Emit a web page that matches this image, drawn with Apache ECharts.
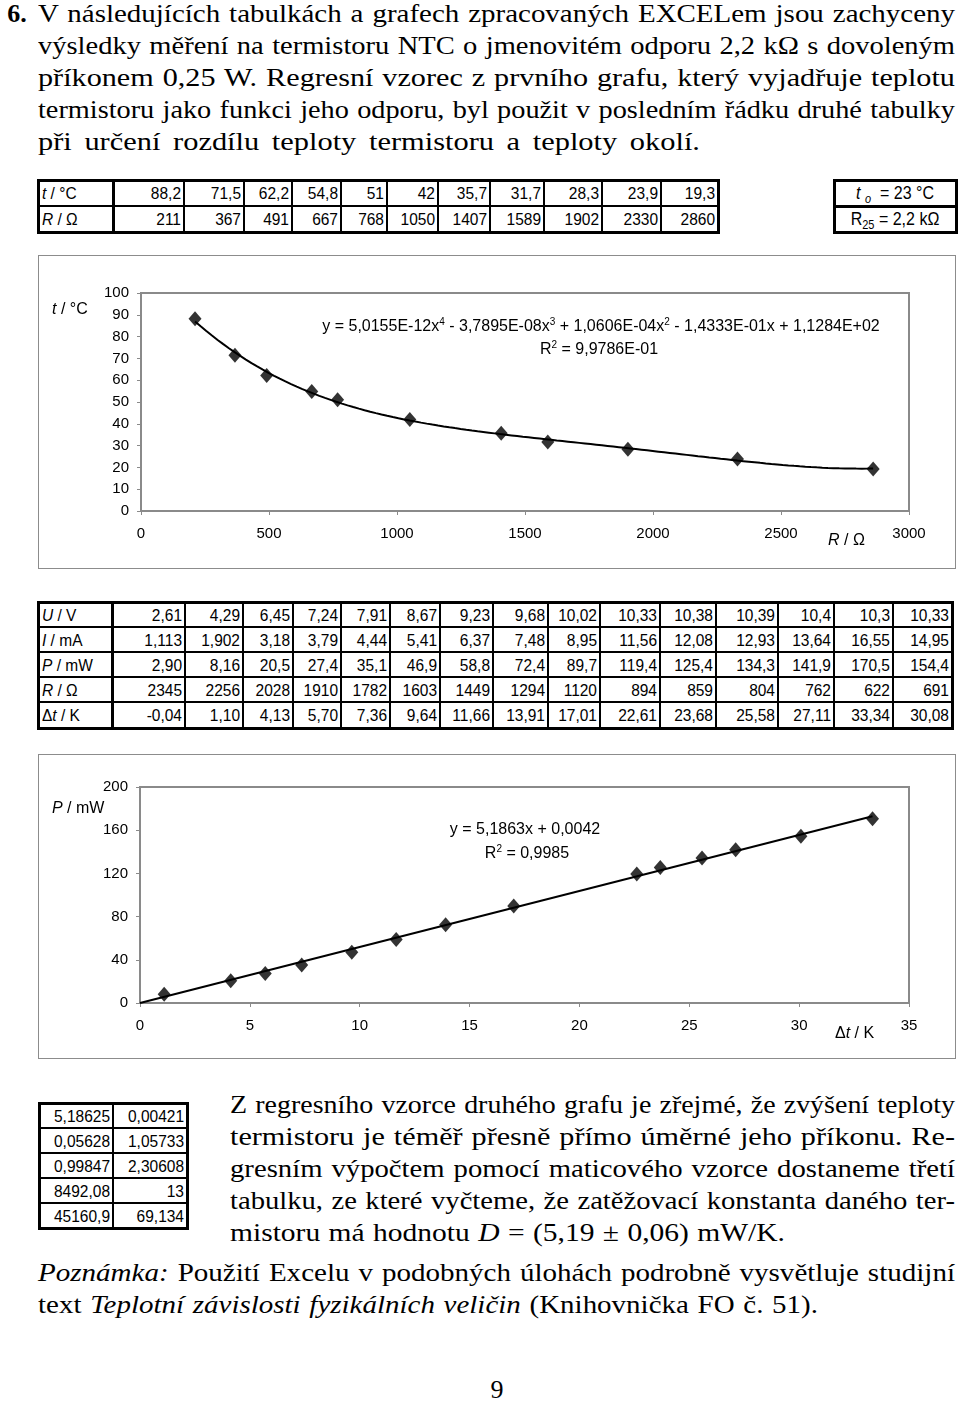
<!DOCTYPE html>
<html><head><meta charset="utf-8">
<script src="https://cdn.jsdelivr.net/npm/echarts@6.0.0/dist/echarts.min.js"></script>
<style>
html,body{margin:0;padding:0;background:#fff;}
body{width:960px;height:1401px;position:relative;overflow:hidden;font-family:'Liberation Serif','Times New Roman',serif;color:#000;}
.ln{position:absolute;font-size:26px;line-height:32px;height:32px;text-align:justify;text-align-last:justify;white-space:nowrap;overflow:visible;transform-origin:0 0;}
.cell{position:absolute;display:flex;align-items:center;box-sizing:border-box;white-space:nowrap;font-family:'Liberation Sans',Arial,sans-serif;font-size:15.5px;color:#000;}
.cell span.t{display:inline-block;transform:scaleY(1.12);}
.cell sub{font-size:11px;vertical-align:-4px;line-height:0;}
.hl{position:absolute;background:#000;}
.frame{position:absolute;border:1px solid #8c8c8c;box-sizing:border-box;}
.chart{position:absolute;}
</style>
</head><body>
<div id="root"></div>
<div class="frame" style="left:38px;top:255px;width:918px;height:314px;"></div>
<div class="chart" id="c1" style="left:38px;top:255px;width:917px;height:313px;"></div>
<div class="frame" style="left:38px;top:754px;width:918px;height:305px;"></div>
<div class="chart" id="c2" style="left:38px;top:754px;width:917px;height:304px;"></div>
<script>
// ---------- data ----------
const t_C   = [88.2, 71.5, 62.2, 54.8, 51, 42, 35.7, 31.7, 28.3, 23.9, 19.3];
const R_ohm = [211, 367, 491, 667, 768, 1050, 1407, 1589, 1902, 2330, 2860];
const U_V   = ['2,61','4,29','6,45','7,24','7,91','8,67','9,23','9,68','10,02','10,33','10,38','10,39','10,4','10,3','10,33'];
const I_mA  = ['1,113','1,902','3,18','3,79','4,44','5,41','6,37','7,48','8,95','11,56','12,08','12,93','13,64','16,55','14,95'];
const P_mW  = ['2,90','8,16','20,5','27,4','35,1','46,9','58,8','72,4','89,7','119,4','125,4','134,3','141,9','170,5','154,4'];
const R2_ohm= ['2345','2256','2028','1910','1782','1603','1449','1294','1120','894','859','804','762','622','691'];
const dT_K  = ['-0,04','1,10','4,13','5,70','7,36','9,64','11,66','13,91','17,01','22,61','23,68','25,58','27,11','33,34','30,08'];
const linestRows = [['5,18625','0,00421'],['0,05628','1,05733'],['0,99847','2,30608'],['8492,08','13'],['45160,9','69,134']];
// regression coefficients printed on the charts (highest power first)
const polyCoef = [5.0155e-12, -3.7895e-08, 1.0606e-04, -1.4333e-01, 1.1284e+02];
const linCoef  = [5.1863, 0.0042];
const xAxis1 = {min:0, max:3000, interval:500};
const yAxis1 = {min:0, max:100, interval:10};
const xAxis2 = {min:0, max:35, interval:5};
const yAxis2 = {min:0, max:200, interval:40};

const num = s => parseFloat(String(s).replace(',', '.'));
const fmt = v => String(v).replace('.', ',');

// ---------- text ----------
const root = document.getElementById('root');
function line(html, left, right, top, mode){
  const d = document.createElement('div');
  d.className = 'ln';
  d.style.left = left + 'px'; d.style.top = top + 'px';
  root.appendChild(d);
  const T = right - left;
  if (mode === 'center'){ d.style.width = T + 'px'; d.style.textAlign='center'; d.style.textAlignLast='center'; d.innerHTML = html; return; }
  // natural (unjustified) width; widen glyphs slightly (Computer Modern is wider than Times), justify the rest
  d.style.textAlign='left'; d.style.textAlignLast='left';
  d.innerHTML = '<span>' + html + '</span>';
  const W = d.firstChild.getBoundingClientRect().width;
  const k = Math.max(0.9, Math.min(1.17, T*0.985/W));
  d.innerHTML = html;
  d.style.textAlign=''; d.style.textAlignLast='';
  d.style.width = (T/k).toFixed(2) + 'px';
  d.style.transform = 'scaleX(' + k.toFixed(4) + ')';
}
line('<b>6.</b>', 4, 30, -2, 'center');
line('V následujících tabulkách a grafech zpracovaných EXCELem jsou zachyceny', 38, 955, -2);
line('výsledky měření na termistoru NTC o jmenovitém odporu 2,2 kΩ s dovoleným', 38, 955, 30);
line('příkonem 0,25 W. Regresní vzorec z prvního grafu, který vyjadřuje teplotu', 38, 955, 62);
line('termistoru jako funkci jeho odporu, byl použit v posledním řádku druhé tabulky', 38, 955, 94);
line('při určení rozdílu teploty termistoru a teploty okolí.', 38, 700, 126);

line('Z regresního vzorce druhého grafu je zřejmé, že zvýšení teploty', 230, 955, 1089);
line('termistoru je téměř přesně přímo úměrné jeho příkonu. Re-', 230, 955, 1121);
line('gresním výpočtem pomocí maticového vzorce dostaneme třetí', 230, 955, 1153);
line('tabulku, ze které vyčteme, že zatěžovací konstanta daného ter-', 230, 955, 1185);
line('mistoru má hodnotu <i>D</i> = (5,19 ± 0,06) mW/K.', 230, 785, 1217);
line('<i>Poznámka:</i> Použití Excelu v podobných úlohách podrobně vysvětluje studijní', 38, 955, 1257);
line('text <i>Teplotní závislosti fyzikálních veličin</i> (Knihovnička FO č. 51).', 38, 818, 1289);
line('9', 480, 514, 1374, 'center');

// ---------- tables ----------
function table(colX, rowY, cells, o){
  o = o || {};
  const outer = o.outer || 3, thin = o.thin || 2;
  const nC = colX.length-1, nR = rowY.length-1;
  for (let i=0;i<=nC;i++){
    const w = (i===0||i===nC||(o.thickCols||[]).includes(i)) ? outer : thin;
    const d = document.createElement('div'); d.className='hl';
    d.style.left=(colX[i]-w/2)+'px'; d.style.width=w+'px';
    d.style.top=(rowY[0]-outer/2)+'px'; d.style.height=(rowY[nR]-rowY[0]+outer)+'px';
    root.appendChild(d);
  }
  for (let j=0;j<=nR;j++){
    const w = (j===0||j===nR||(o.thickRows||[]).includes(j)) ? outer : thin;
    const d = document.createElement('div'); d.className='hl';
    d.style.top=(rowY[j]-w/2)+'px'; d.style.height=w+'px';
    d.style.left=(colX[0]-outer/2)+'px'; d.style.width=(colX[nC]-colX[0]+outer)+'px';
    root.appendChild(d);
  }
  for (let j=0;j<nR;j++) for (let i=0;i<nC;i++){
    const c = cells[j][i]; if (c==null) continue;
    const d = document.createElement('div'); d.className='cell';
    d.style.left=colX[i]+'px'; d.style.width=(colX[i+1]-colX[i])+'px';
    d.style.top=rowY[j]+'px'; d.style.height=(rowY[j+1]-rowY[j])+'px';
    if (o.fontSize) d.style.fontSize = o.fontSize + 'px';
    const al = (o.align && o.align(i,j)) || 'right';
    d.style.justifyContent = al==='left'?'flex-start':(al==='center'?'center':'flex-end');
    if (al==='left') d.style.paddingLeft='4px';
    if (al==='right') d.style.paddingRight='3px';
    d.innerHTML = '<span class="t">' + c + '</span>'; root.appendChild(d);
  }
}
// table 1
table([38,113,184,244,292,341,387,438,490,544,602,661,718],[180,206,232],
  [['<i>t</i>&nbsp;/ °C'].concat(t_C.map(fmt)), ['<i>R</i>&nbsp;/ Ω'].concat(R_ohm.map(fmt))],
  {thickCols:[1], align:(i)=> i===0?'left':'right'});
// constants box
table([834,956],[180,206,232],
  [['<i>t</i>&nbsp;<sub><i>o</i></sub>&nbsp; = 23 °C'],['R<sub>25</sub> = 2,2 kΩ']],
  {thickRows:[1], align:()=> 'center', fontSize:16});
// table 2
table([38,112,185,243,293,341,390,440,493,548,600,660,716,778,834,893,952],[602,627,652,677,702,728],
  [['<i>U</i>&nbsp;/ V'].concat(U_V), ['<i>I</i>&nbsp;/ mA'].concat(I_mA), ['<i>P</i>&nbsp;/ mW'].concat(P_mW),
   ['<i>R</i>&nbsp;/ Ω'].concat(R2_ohm), ['Δ<i>t</i>&nbsp;/ K'].concat(dT_K)],
  {thickCols:[1], align:(i)=> i===0?'left':'right'});
// table 3
table([39,113,187],[1103,1128,1153,1178,1203,1228], linestRows, {});

// ---------- charts ----------
const F = "'Liberation Sans', Arial, sans-serif";
function axis(a, margin){
  return Object.assign({type:'value', splitLine:{show:false},
    axisLine:{show:true, onZero:false, lineStyle:{color:'#8a8a8a', width:2}},
    axisTick:{show:true, length:4, lineStyle:{color:'#8a8a8a', width:1}},
    axisLabel:{color:'#000', fontSize:15, fontFamily:F, margin:margin, formatter:v=>String(v)}}, a);
}
function txt(x, y, text, rich, align){
  return {type:'text', x:x, y:y, silent:true, style:{text:text, rich:rich, fill:'#000', fontSize:16, fontFamily:F,
    align:align||'left', textAlign:align||'left', verticalAlign:'middle', textVerticalAlign:'middle'}};
}
const richBase = {
  i:{fontStyle:'italic', fontSize:16, fontFamily:F, color:'#000'},
  n:{fontSize:16, fontFamily:F, color:'#000'},
  s:{fontSize:10, fontFamily:F, color:'#000', verticalAlign:'top', lineHeight:19}
};

// chart 1
const pts1 = R_ohm.map((r,k)=>[r, t_C[k]]);
const rMin = Math.min.apply(null,R_ohm), rMax = Math.max.apply(null,R_ohm);
const trend1 = [];
for (let k=0;k<=120;k++){
  const x = rMin + (rMax-rMin)*k/120;
  let y = 0; polyCoef.forEach(c=>{ y = y*x + c; });
  trend1.push([x, y]);
}
const c1 = echarts.init(document.getElementById('c1'), null, {renderer:'canvas'});
c1.setOption({
  animation:false,
  grid:{left:103, top:38, width:768, height:218, show:true, borderColor:'#8a8a8a', borderWidth:2, backgroundColor:'rgba(0,0,0,0)'},
  xAxis: axis(xAxis1, 15),
  yAxis: axis(yAxis1, 12),
  series:[
    {type:'line', data:trend1, showSymbol:false, symbol:'none', lineStyle:{color:'#000', width:2}, silent:true, z:2},
    {type:'scatter', data:pts1, symbol:'diamond', symbolSize:[13,15], itemStyle:{color:'#000'}, z:3}
  ],
  graphic:[
    txt(14, 55, '{i|t}{n| / °C}', richBase),
    txt(563, 72, '{n|y = 5,0155E-12x}{s|4}{n| - 3,7895E-08x}{s|3}{n| + 1,0606E-04x}{s|2}{n| - 1,4333E-01x + 1,1284E+02}', richBase, 'center'),
    txt(561, 95, '{n|R}{s|2}{n| = 9,9786E-01}', richBase, 'center'),
    txt(790, 286, '{i|R}{n| / Ω}', richBase)
  ]
});

// chart 2
const pts2 = dT_K.map((d,k)=>[num(d), num(P_mW[k])]).filter(p=>p[0] >= xAxis2.min);
const dMax = Math.max.apply(null, dT_K.map(num));
const trend2 = [[0, linCoef[1]], [dMax, linCoef[0]*dMax + linCoef[1]]];
const c2 = echarts.init(document.getElementById('c2'), null, {renderer:'canvas'});
c2.setOption({
  animation:false,
  grid:{left:102, top:33, width:769, height:216, show:true, borderColor:'#8a8a8a', borderWidth:2, backgroundColor:'rgba(0,0,0,0)'},
  xAxis: axis(xAxis2, 15),
  yAxis: axis(yAxis2, 12),
  series:[
    {type:'line', data:trend2, showSymbol:false, symbol:'none', lineStyle:{color:'#000', width:2}, silent:true, z:2},
    {type:'scatter', data:pts2, symbol:'diamond', symbolSize:[13,15], itemStyle:{color:'#000'}, z:3}
  ],
  graphic:[
    txt(14, 55, '{i|P}{n| / mW}', richBase),
    txt(487, 76, '{n|y = 5,1863x + 0,0042}', richBase, 'center'),
    txt(489, 100, '{n|R}{s|2}{n| = 0,9985}', richBase, 'center'),
    txt(797, 280, '{n|Δ}{i|t}{n| / K}', richBase)
  ]
});
</script>
</body></html>
